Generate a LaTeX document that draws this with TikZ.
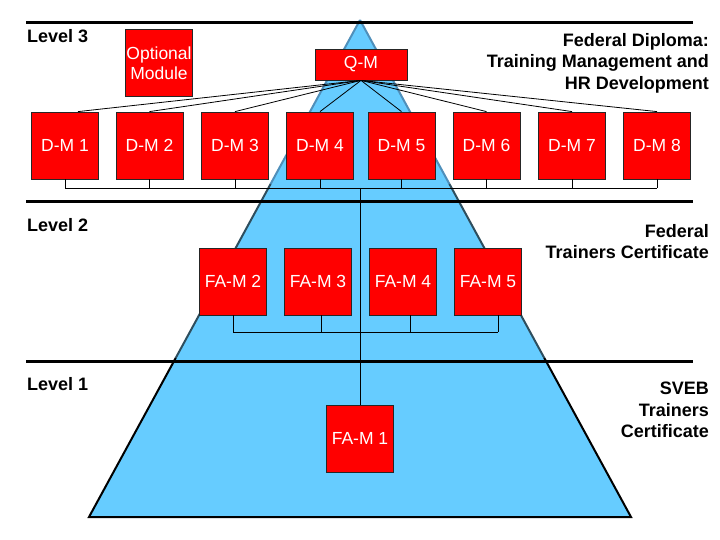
\documentclass[tikz,border=0pt]{standalone}
\usepackage{fontspec}
\setmainfont{Liberation Sans}
\usetikzlibrary{calc}
\definecolor{pyr}{HTML}{66CCFF}
\definecolor{boxred}{HTML}{FF0000}
\definecolor{edgetop}{HTML}{4F8FBA}
\definecolor{edgemid}{HTML}{2E4E5E}
\tikzset{
  modbox/.style={rectangle, draw=black!85, line width=0.8pt, fill=boxred, text=white,
    minimum width=67pt, minimum height=67pt, inner sep=0pt, align=center,
    font=\fontsize{17.5}{20}\selectfont},
  levellabel/.style={anchor=base west, inner sep=0pt, font=\bfseries\fontsize{18}{20}\selectfont},
  sidelabel/.style={anchor=north east, inner sep=0pt, align=right, font=\bfseries\fontsize{18}{21.5}\selectfont},
  thickrule/.style={line width=3pt, black},
  conn/.style={line width=0.8pt, black}
}
\begin{document}
\begin{tikzpicture}[x=1pt,y=-1pt]
\useasboundingbox (0,0) rectangle (720,540);
% pyramid
\coordinate (apex) at (360,20);
\coordinate (bl) at (89,517);
\coordinate (br) at (631,517);
\fill[pyr] (apex) -- (br) -- (bl) -- cycle;
\draw[edgetop, line width=2pt] (apex) -- ($(apex)!0.33!(bl)$);
\draw[edgetop, line width=2pt] (apex) -- ($(apex)!0.33!(br)$);
\draw[edgemid, line width=2pt] ($(apex)!0.33!(bl)$) -- ($(apex)!0.68!(bl)$);
\draw[edgemid, line width=2pt] ($(apex)!0.33!(br)$) -- ($(apex)!0.68!(br)$);
\draw[black, line width=2pt] ($(apex)!0.68!(bl)$) -- (bl) -- (br) -- ($(apex)!0.68!(br)$);
% level rules
\draw[thickrule] (26,23) -- (693,23);
\draw[thickrule] (26,202) -- (693,202);
\draw[thickrule] (26,361) -- (693,361);
% boxes
\node[modbox] (opt) at (159,63) {Optional\\Module};
\node[modbox, minimum width=92pt, minimum height=31pt] (qm) at (361,64.5) {Q-M};
\node[modbox] (dm1) at (65,145.5) {D-M 1};
\node[modbox] (dm2) at (149.5,145.5) {D-M 2};
\node[modbox] (dm3) at (235,145.5) {D-M 3};
\node[modbox] (dm4) at (320,145.5) {D-M 4};
\node[modbox] (dm5) at (401.5,145.5) {D-M 5};
\node[modbox] (dm6) at (486.5,145.5) {D-M 6};
\node[modbox] (dm7) at (572,145.5) {D-M 7};
\node[modbox] (dm8) at (657,145.5) {D-M 8};
\node[modbox] (fa2) at (233,281.5) {FA-M 2};
\node[modbox] (fa3) at (318,281.5) {FA-M 3};
\node[modbox] (fa4) at (403,281.5) {FA-M 4};
\node[modbox] (fa5) at (488,281.5) {FA-M 5};
\node[modbox] (fa1) at (360,438.5) {FA-M 1};
% fan from Q-M
\draw[conn] (qm.south) -- ([xshift=13pt]dm1.north);
\foreach \n in {dm2,dm3,dm4,dm5,dm6,dm7,dm8}{
  \draw[conn] (qm.south) -- (\n.north);
}
% D-M bus
\coordinate (dbus) at (0,188);
\foreach \n in {dm1,dm2,dm3,dm4,dm5,dm6,dm7,dm8}{
  \draw[conn] (\n.south) -- (\n.south |- dbus);
}
\draw[conn] (dm1.south |- dbus) -- (dm8.south |- dbus);
% FA bus
\coordinate (fbus) at (0,332);
\foreach \n/\s in {fa2/0,fa3/3,fa4/7,fa5/10}{
  \draw[conn] ([xshift=\s pt]\n.south) -- ([xshift=\s pt]\n.south |- fbus);
}
\draw[conn] (fa2.south |- fbus) -- ([xshift=10pt]fa5.south |- fbus);
% trunk
\draw[conn] (fa1.north |- dbus) -- (fa1.north);
% labels
\node[levellabel] (l3) at (27,43) {Level 3};
\node[levellabel] (l2) at (27,232) {Level 2};
\node[levellabel] (l1) at (27,390) {Level 1};
\node[sidelabel] (fd) at (709,33) {Federal Diploma:\hspace{5pt}\\Training Management and\hspace{3pt}\\HR Development};
\node[sidelabel] (ft) at (709,224) {Federal\\Trainers Certificate};
\node[sidelabel] (sv) at (709,382) {SVEB\\Trainers\\Certificate};
\end{tikzpicture}
\end{document}
